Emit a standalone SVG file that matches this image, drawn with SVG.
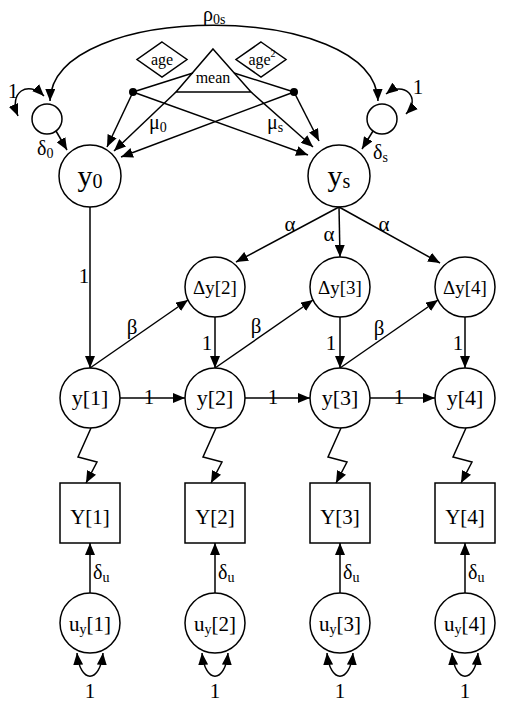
<svg xmlns="http://www.w3.org/2000/svg" width="515" height="706" viewBox="0 0 515 706" font-family="'Liberation Serif', 'Times New Roman', serif">
<defs>
<marker id="ah" viewBox="0 0 12 10" refX="12" refY="5" markerWidth="12" markerHeight="10" markerUnits="userSpaceOnUse" orient="auto-start-reverse">
<path d="M0,0 L12,5 L0,10 z" fill="#000"/>
</marker>
<style>
.n{fill:#fff;stroke:#000;stroke-width:1.5}
.c{fill:none;stroke:#000;stroke-width:1.5}
.a{fill:none;stroke:#000;stroke-width:1.5;marker-end:url(#ah)}
.b{fill:none;stroke:#000;stroke-width:1.5;marker-start:url(#ah);marker-end:url(#ah)}
text{font-family:'Liberation Serif','Times New Roman',serif;fill:#000}
.t{text-anchor:middle}
.lb{font-size:21px}
.gk{font-size:20px}
</style>
</defs>
<rect width="515" height="706" fill="#fff"/>

<g id="s0"><circle class="n" cx="47" cy="119" r="15"/></g>
<g id="ss"><circle class="n" cx="382" cy="119" r="15"/></g>
<g id="y0"><circle class="n" cx="90" cy="176" r="31"/><text class="t" x="90" y="186" font-size="30">y<tspan font-size="20" dy="2">0</tspan></text></g>
<g id="ys"><circle class="n" cx="339" cy="176" r="31"/><text class="t" x="339" y="186" font-size="30">y<tspan font-size="20" dy="2">s</tspan></text></g>
<g id="age"><polygon class="n" points="162,42 187,59.5 162,77 137,59.5"/><text class="t" x="162" y="65" font-size="16">age</text></g>
<g id="age2"><polygon class="n" points="261,42 286,59.5 261,77 236,59.5"/><text class="t" x="262" y="65" font-size="16">age<tspan font-size="10" dy="-8">2</tspan></text></g>
<g id="mean"><polygon class="n" points="213,49 251,92 176,92"/><text class="t" x="213" y="83" font-size="16">mean</text></g>
<g id="dot1"><circle cx="133" cy="92" r="4" fill="#000"/></g>
<g id="dot2"><circle cx="294" cy="92" r="4" fill="#000"/></g>

<g id="dy2"><circle class="n" cx="215" cy="287" r="30"/><text class="t" x="215" y="294" font-size="19">Δy[2]</text></g>
<g id="dy3"><circle class="n" cx="340" cy="287" r="30"/><text class="t" x="340" y="294" font-size="19">Δy[3]</text></g>
<g id="dy4"><circle class="n" cx="465" cy="287" r="30"/><text class="t" x="465" y="294" font-size="19">Δy[4]</text></g>

<g id="y1"><circle class="n" cx="90" cy="398" r="30"/><text class="t" x="90" y="405" font-size="22">y[1]</text></g>
<g id="y2"><circle class="n" cx="215" cy="398" r="30"/><text class="t" x="215" y="405" font-size="22">y[2]</text></g>
<g id="y3"><circle class="n" cx="340" cy="398" r="30"/><text class="t" x="340" y="405" font-size="22">y[3]</text></g>
<g id="y4"><circle class="n" cx="465" cy="398" r="30"/><text class="t" x="465" y="405" font-size="22">y[4]</text></g>

<g id="Y1"><rect class="n" x="60" y="483" width="60" height="60"/><text class="t" x="90" y="524" font-size="21">Y[1]</text></g>
<g id="Y2"><rect class="n" x="185" y="483" width="60" height="60"/><text class="t" x="215" y="524" font-size="21">Y[2]</text></g>
<g id="Y3"><rect class="n" x="310" y="483" width="60" height="60"/><text class="t" x="340" y="524" font-size="21">Y[3]</text></g>
<g id="Y4"><rect class="n" x="435" y="483" width="60" height="60"/><text class="t" x="465" y="524" font-size="21">Y[4]</text></g>

<g id="u1"><circle class="n" cx="90" cy="623" r="30"/><text class="t" x="90" y="631" font-size="21">u<tspan font-size="14" dy="3">y</tspan><tspan dy="-3">[1]</tspan></text></g>
<g id="u2"><circle class="n" cx="215" cy="623" r="30"/><text class="t" x="215" y="631" font-size="21">u<tspan font-size="14" dy="3">y</tspan><tspan dy="-3">[2]</tspan></text></g>
<g id="u3"><circle class="n" cx="340" cy="623" r="30"/><text class="t" x="340" y="631" font-size="21">u<tspan font-size="14" dy="3">y</tspan><tspan dy="-3">[3]</tspan></text></g>
<g id="u4"><circle class="n" cx="465" cy="623" r="30"/><text class="t" x="465" y="631" font-size="21">u<tspan font-size="14" dy="3">y</tspan><tspan dy="-3">[4]</tspan></text></g>

<g id="connectors">
<path class="b" d="M50,101 C52,0 375,0 378,101"/>
<path class="b" d="M18,116 C8,92 28,80 44,96"/>
<path class="b" d="M386,94 C404,80 422,98 406,114"/>
<path class="a" d="M56,131 L67,150"/>
<path class="a" d="M373,131 L362,149"/>
<path class="c" d="M133,92 L193,73"/>
<path class="c" d="M294,92 L234,73"/>
<path class="a" d="M133,92 L107,147"/>
<path class="a" d="M176,92 L114,151"/>
<path class="a" d="M294,92 L121,157"/>
<path class="a" d="M294,92 L319,141"/>
<path class="a" d="M251,92 L313,147"/>
<path class="a" d="M133,92 L308,155"/>
<path class="a" d="M90,207 L90,368"/>
<path class="a" d="M339,207 L236,262"/>
<path class="a" d="M339,207 L340,257"/>
<path class="a" d="M339,207 L440,263"/>
<path class="a" d="M90,368 L188,300"/>
<path class="a" d="M215,368 L313,300"/>
<path class="a" d="M340,368 L438,300"/>
<path class="a" d="M215,317 L215,368"/>
<path class="a" d="M340,317 L340,368"/>
<path class="a" d="M465,317 L465,368"/>
<path class="a" d="M120,398 L185,398"/>
<path class="a" d="M245,398 L310,398"/>
<path class="a" d="M370,398 L435,398"/>
<path class="a" d="M91,428 L78,457 L97,462 L86,483"/>
<path class="a" d="M216,428 L203,457 L222,462 L211,483"/>
<path class="a" d="M341,428 L328,457 L347,462 L336,483"/>
<path class="a" d="M466,428 L453,457 L472,462 L461,483"/>
<path class="a" d="M90,593 L90,543"/>
<path class="a" d="M215,593 L215,543"/>
<path class="a" d="M340,593 L340,543"/>
<path class="a" d="M465,593 L465,543"/>
<path class="b" d="M77,653 C80,684 100,684 103,653"/>
<path class="b" d="M202,653 C205,684 225,684 228,653"/>
<path class="b" d="M327,653 C330,684 350,684 353,653"/>
<path class="b" d="M452,653 C455,684 475,684 478,653"/>
</g>

<g id="labels">
<text x="203" y="21" font-size="20">ρ<tspan font-size="14" dy="3">0s</tspan></text>
<text class="t lb" x="13" y="98">1</text>
<text class="t lb" x="418" y="94">1</text>
<text class="gk" x="149" y="129">μ<tspan font-size="14" dy="3">0</tspan></text>
<text class="gk" x="267" y="129">μ<tspan font-size="14" dy="3">s</tspan></text>
<text class="gk" x="37" y="155">δ<tspan font-size="14" dy="3">0</tspan></text>
<text class="gk" x="373" y="159">δ<tspan font-size="14" dy="3">s</tspan></text>
<text class="t lb" x="84" y="283">1</text>
<text class="t lb" x="290" y="231">α</text>
<text class="t lb" x="329" y="241">α</text>
<text class="t lb" x="384" y="231">α</text>
<text class="t lb" x="132" y="334">β</text>
<text class="t lb" x="256" y="333">β</text>
<text class="t lb" x="379" y="335">β</text>
<text class="t lb" x="207" y="350">1</text>
<text class="t lb" x="331" y="350">1</text>
<text class="t lb" x="458" y="350">1</text>
<text class="t lb" x="149" y="404">1</text>
<text class="t lb" x="273" y="404">1</text>
<text class="t lb" x="399" y="404">1</text>
<text class="gk" x="93" y="579">δ<tspan font-size="14" dy="3">u</tspan></text>
<text class="gk" x="218" y="579">δ<tspan font-size="14" dy="3">u</tspan></text>
<text class="gk" x="343" y="579">δ<tspan font-size="14" dy="3">u</tspan></text>
<text class="gk" x="468" y="579">δ<tspan font-size="14" dy="3">u</tspan></text>
<text class="t lb" x="90" y="698">1</text>
<text class="t lb" x="215" y="698">1</text>
<text class="t lb" x="340" y="698">1</text>
<text class="t lb" x="465" y="698">1</text>
</g>
</svg>
